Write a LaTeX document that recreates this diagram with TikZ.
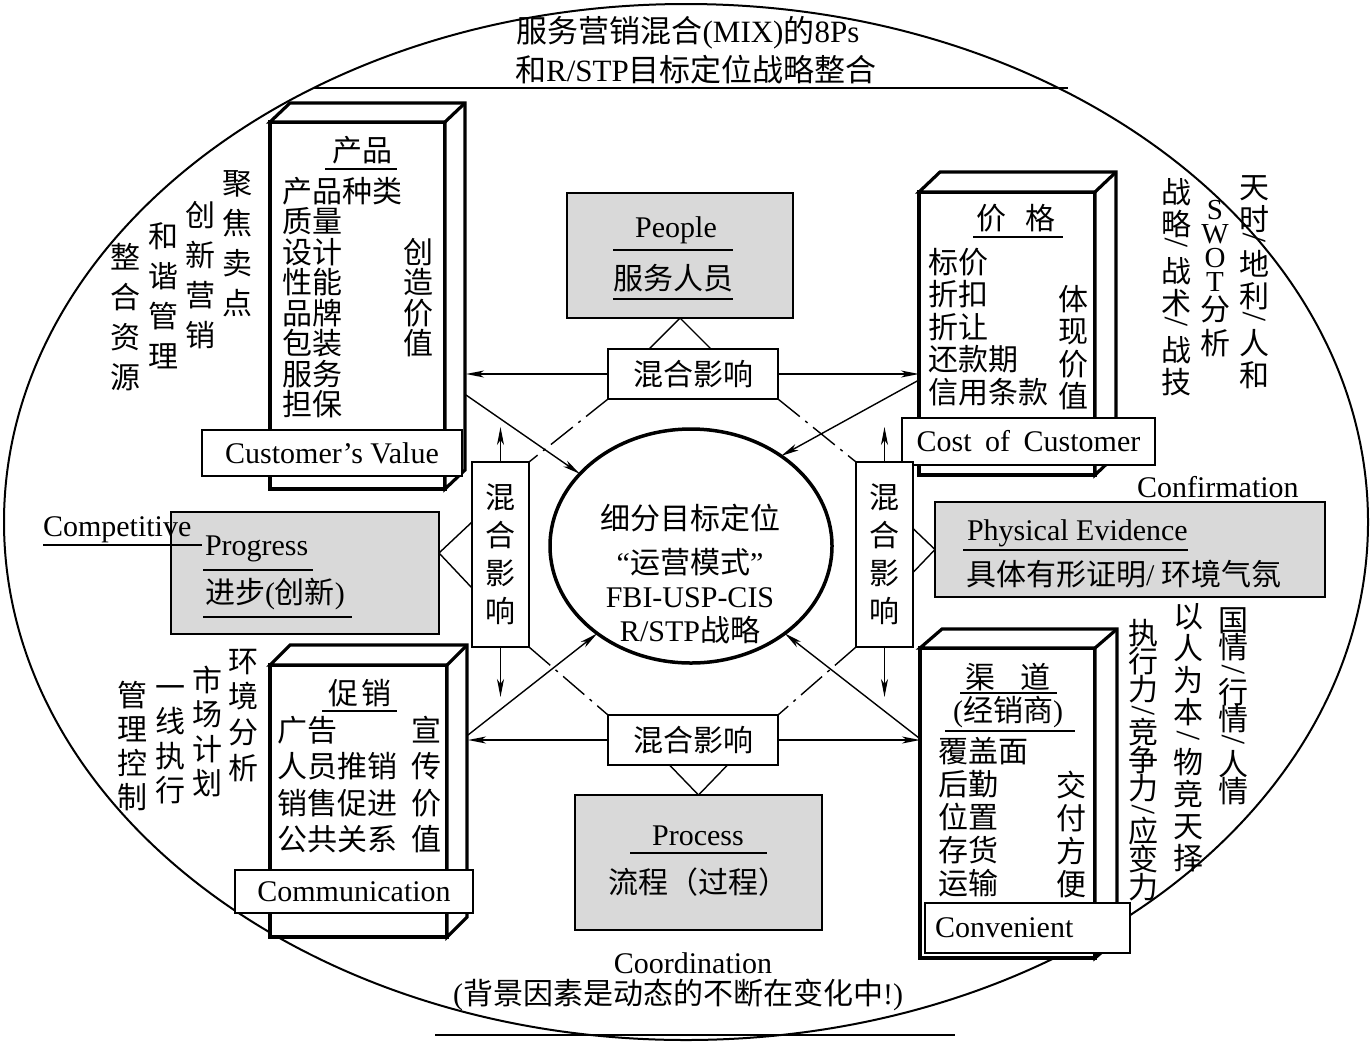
\documentclass[tikz,border=0pt]{standalone}
\usepackage{fontspec}
\setmainfont{Liberation Serif}
\newfontfamily\cjk{Noto Sans CJK SC}
\usetikzlibrary{shapes.geometric,arrows.meta,calc}
\newcommand\zh[1]{{\cjk #1}}
\newcommand\vsl{\rotatebox[origin=c]{90}{\rmfamily\fontsize{34}{34}\selectfont /}}
\newcommand\fsz[2]{\fontsize{#1}{#2}\selectfont\lineskiplimit=-100pt\relax\lineskip=0pt\relax}
\newcommand\faces[3]{\draw[side, fill=white] (#1.north west) -- ++(#2,#3) -- ($(#1.north east)+(#2,#3)$) -- ($(#1.south east)+(#2,#3)$) -- (#1.south east) -- (#1.north east) -- cycle; \draw[side] (#1.north east) -- ++(#2,#3);}
\definecolor{boxgray}{RGB}{217,217,217}
\tikzset{
  every node/.style={inner sep=0pt, outer sep=0pt},
  solidbox/.style={draw, line width=3.2pt, fill=white, rectangle},
  side/.style={line width=3.2pt},
  graybox/.style={draw, line width=2.8pt, fill=boxgray, rectangle},
  mixbox/.style={draw, line width=2.2pt, fill=white, rectangle, font=\cjk\fsz{30}{38}, align=center},
  labelbox/.style={draw, line width=2.2pt, fill=white, rectangle, font=\fsz{30}{30}},
  conn/.style={line width=1.4pt},
  arr/.style={conn, -{Stealth[length=18pt,width=7pt,inset=5pt]}},
  dd/.style={conn, dash pattern=on 28pt off 7pt on 3pt off 7pt},
  ul/.style={line width=2pt},
  rule/.style={line width=2.2pt},
  zht/.style={font=\cjk\fsz{30}{30}},
  lat/.style={font=\fsz{30}{30}},
  vcol/.style={font=\cjk\fsz{30}{#1}, align=center, anchor=north},
  list/.style={font=\cjk\fsz{30}{#1}, align=left, anchor=north west},
}
\begin{document}
\begin{tikzpicture}[x=1pt, y=-1pt]
\useasboundingbox (0,0) rectangle (1372,1050);

% outer ellipse
\node[ellipse, draw, line width=2pt, minimum width=1364pt, minimum height=1036pt] (outer) at (686,522) {};

% title
\node[font=\fsz{31}{31}] (title1) at (688,33) {\zh{服务营销混合}(MIX)\zh{的}8Ps};
\node[font=\fsz{31}{31}] (title2) at (696,70) {\zh{和}R/STP\zh{目标定位战略整合}};
\draw[rule] (314,88) -- (1068,88);

% bottom text
\node[lat] (coord) at (693,963) {Coordination};
\node[lat] (bgtext) at (678,995) {(\zh{背景因素是动态的不断在变化中}!)};
\draw[rule] (435,1035) -- (955,1035);

% ---------- product box ----------
\node[solidbox, minimum width=175pt, minimum height=367pt] (prod) at (357.5,305.5) {};
\faces{prod}{20}{-19}
\node[zht] (prodT) at (362,150) {产品};
\draw[ul] (325,169) -- (397,169);
\node[list=30.5] (prodL) at (282,177) {产品种类\\质量\\设计\\性能\\品牌\\包装\\服务\\担保};
\node[vcol=30.5] (prodR) at (418,238) {创\\造\\价\\值};
\node[labelbox, minimum width=260pt, minimum height=46pt] (cv) at (332,453) {Customer’s Value};

% ---------- price box ----------
\node[solidbox, minimum width=176pt, minimum height=283pt] (price) at (1007,333.5) {};
\faces{price}{21}{-20}
\node[zht] (priceT) at (1016,218) {价\hspace{20pt}格};
\draw[ul] (973,237) -- (1063,237);
\node[list=32.5] (priceL) at (928,248) {标价\\折扣\\折让\\还款期\\信用条款};
\node[vcol=32.5] (priceR) at (1073,285) {体\\现\\价\\值};
\node[labelbox, minimum width=253pt, minimum height=47pt] (cc) at (1028.5,441.5) {Cost\hspace{6pt} of\hspace{6pt} Customer};

% ---------- promotion box ----------
\node[solidbox, minimum width=177pt, minimum height=272pt] (promo) at (358.5,801) {};
\faces{promo}{20}{-20}
\node[zht] (promoT) at (360,693) {促\hspace{4pt}销};
\draw[ul] (322,711) -- (397,711);
\node[list=36.5] (promoL) at (277,716) {广告\\人员推销\\销售促进\\公共关系};
\node[vcol=36.5] (promoR) at (426,716) {宣\\传\\价\\值};
\node[labelbox, minimum width=238pt, minimum height=43pt] (cm) at (354,891.5) {Communication};

% ---------- channel box ----------
\node[solidbox, minimum width=175pt, minimum height=310pt] (chan) at (1007.5,803) {};
\faces{chan}{22}{-19}
\node[zht] (chanT) at (1008,677) {渠\hspace{25pt}道};
\draw[ul] (960,693) -- (1057,693);
\node[lat] (chanT2) at (1008,712) {(\zh{经销商})};
\draw[ul] (945,731) -- (1075,731);
\node[list=33] (chanL) at (938,737) {覆盖面\\后勤\\位置\\存货\\运输};
\node[vcol=33] (chanR) at (1071,771) {交\\付\\方\\便};
\node[labelbox, minimum width=205pt, minimum height=50pt, text width=185pt, align=left] (cn) at (1027.5,928) {Convenient};

% ---------- gray boxes ----------
\node[graybox, minimum width=226pt, minimum height=125pt] (people) at (680,255.5) {};
\node[lat] (peopleE) at (676,230) {People};
\draw[ul] (613,250) -- (733,250);
\node[zht] (peopleC) at (673,278) {服务人员};
\draw[ul] (613,299) -- (733,299);

\node[graybox, minimum width=247pt, minimum height=135pt] (process) at (698.5,862.5) {};
\node[lat] (processE) at (698,836) {Process};
\draw[ul] (630,853) -- (767,853);
\node[zht] (processC) at (698,882) {流程（过程）};

\node[graybox, minimum width=268pt, minimum height=122pt] (progress) at (305,573) {};
\node[lat, anchor=base west] (progE) at (205,555) {Progress};
\draw[ul] (203,570) -- (313,570);
\node[lat, anchor=west] (progC) at (205,594) {\zh{进步}(\zh{创新})};
\draw[ul] (203,617) -- (352,617);
\node[lat, anchor=base west] (comp) at (43,536) {Competitive};
\draw[ul] (43,545) -- (202,545);

\node[graybox, minimum width=390pt, minimum height=95pt] (pe) at (1130,549.5) {};
\node[lat, anchor=base west] (peE) at (967,540) {Physical Evidence};
\draw[ul] (963,550) -- (1188,550);
\node[lat, anchor=west] (peC) at (966,574) {\zh{具体有形证明}/ \zh{环境气氛}};
\node[lat, anchor=base west] (conf) at (1137,497) {Confirmation};

% ---------- centre ----------
\node[ellipse, draw, line width=3.5pt, minimum width=282pt, minimum height=234pt] (circ) at (691,546) {};
\node[font=\fsz{30}{34}, align=center, anchor=north] (circT) at (690,504) {\zh{细分目标定位}\\[10pt]“\zh{运营模式}”\\FBI-USP-CIS\\R/STP\zh{战略}};

% ---------- mix boxes ----------
\node[mixbox, minimum width=170pt, minimum height=50pt] (mixT) at (693,374) {混合影响};
\node[mixbox, minimum width=170pt, minimum height=50pt] (mixB) at (693,740) {混合影响};
\node[mixbox, minimum width=57pt, minimum height=185pt] (mixL) at (500.5,554.5) {混\\合\\影\\响};
\node[mixbox, minimum width=57pt, minimum height=185pt] (mixR) at (884.5,554.5) {混\\合\\影\\响};

% ---------- vertical side texts ----------
\node[vcol=40] (v1) at (237,171) {聚\\焦\\卖\\点};
\node[vcol=40] (v2) at (200,201) {创\\新\\营\\销};
\node[vcol=40] (v3) at (163,223) {和\\谐\\管\\理};
\node[vcol=40] (v4) at (125,243) {整\\合\\资\\源};

\node[vcol=32] (v5) at (1176,178) {战\\略\\[-13pt]\vsl\\[-4pt]战\\术\\[-13pt]\vsl\\[-4pt]战\\技};
\node[font=\fsz{29}{24}, align=center, anchor=north] (v6) at (1215,200) {S\\W\\O\\T\\[5pt]\zh{\fontsize{30}{30}\selectfont 分}\\[10pt]\zh{\fontsize{30}{30}\selectfont 析}};
\node[vcol=32] (v7) at (1254,176) {天\\时\\[-14pt]\vsl\\[-5pt]地\\利\\[-12pt]\vsl\\[-5pt]人\\和};

\node[vcol=27] (v12) at (1233,608) {国\\情\\[-5pt]\vsl\\[-4pt]行\\情\\[-7pt]\vsl\\[-2pt]人\\情};
\node[vcol=32] (v13) at (1188,603) {以\\人\\为\\本\\[-8pt]\vsl\\[-6pt]物\\竞\\天\\择};
\node[vcol=28] (v14) at (1143,619) {执\\行\\力\\[-6pt]\vsl\\[-7pt]竞\\争\\力\\[-6pt]\vsl\\[-7pt]应\\变\\力};

\node[vcol=35.7] (v8) at (243,649) {环\\境\\分\\析};
\node[vcol=34.3] (v9) at (207,666) {市\\场\\计\\划};
\node[vcol=34.3, anchor=south] (v10) at (170,804) {一\\线\\执\\行};
\node[vcol=34] (v11) at (132,681) {管\\理\\控\\制};

% ---------- connectors ----------
\coordinate (prodSide) at ($(prod.north east)+(21,0)$);
\coordinate (promoSide) at ($(promo.north east)+(21,0)$);
\draw[arr] (mixT.west) -- (mixT.west -| prodSide);
\draw[arr] (mixT.east) -- (mixT.east -| price.west);
\draw[arr] (mixB.west) -- (mixB.west -| promoSide);
\draw[arr] (mixB.east) -- (mixB.east -| chan.west);

\draw[arr] (mixL.north) -- ++(0,-35);
\draw[arr] (mixL.south) -- ++(0,50);
\draw[arr] (mixR.north) -- ++(0,-35);
\draw[arr] (mixR.south) -- ++(0,50);

\draw[conn] (people.south) -- ++(-31,31);
\draw[conn] (people.south) -- ++(31,31);
\draw[conn] (process.north) -- ++(-29,-30);
\draw[conn] (process.north) -- ++(29,-30);
\coordinate (pgApex) at ($(progress.east)+(0,-20)$);
\draw[conn] (pgApex) -- ++(33,-31);
\draw[conn] (pgApex) -- ++(33,35);
\draw[conn] (pe.west) -- ++(-22,-21);
\draw[conn] (pe.west) -- ++(-22,23);

\coordinate (dTL) at (466,395);
\coordinate (dTR) at (919,380);
\coordinate (dBL) at (468,735);
\coordinate (dBR) at (919,738);
\draw[arr] (dTL) -- (circ.147);
\draw[arr] (dTR) -- (circ.45);
\draw[arr] (dBL) -- (circ.223);
\draw[arr] (dBR) -- (circ.317);

\draw[dd] (mixT.south west) -- (mixL.north east);
\draw[dd] (mixT.south east) -- (mixR.north west);
\draw[dd] (mixL.south east) -- (mixB.north west);
\draw[dd] (mixR.south west) -- (mixB.north east);
\end{tikzpicture}
\end{document}
